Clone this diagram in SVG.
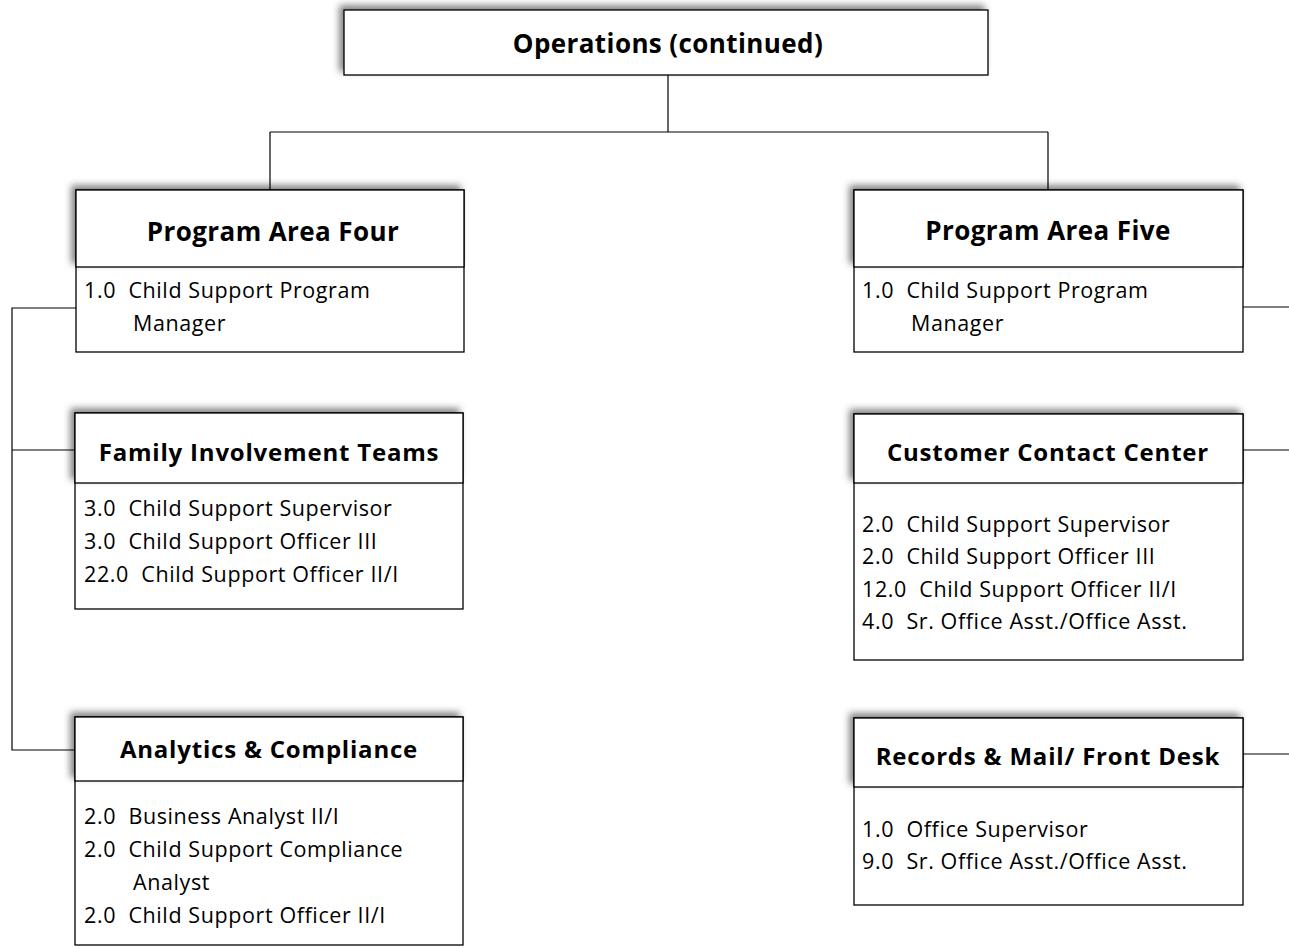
<svg xmlns="http://www.w3.org/2000/svg" width="1289" height="948" viewBox="0 0 1289 948">
<defs>
<filter id="sh" x="-10%" y="-30%" width="120%" height="160%">
<feDropShadow dx="-4" dy="-4" stdDeviation="3.5" flood-color="#000" flood-opacity="0.5"/>
</filter>
</defs>
<style>
.box{fill:#fff;stroke:#000;stroke-width:1.3}
.hd{fill:#fff;stroke:#000;stroke-width:1.3;filter:url(#sh)}
.t{font-family:"Open Sans","Noto Sans",sans-serif;font-weight:bold;font-size:24px;letter-spacing:0.8px;text-anchor:middle;dominant-baseline:central;fill:#000}
.tl{font-size:26px;letter-spacing:0.4px}
.b{font-family:"Open Sans","Noto Sans",sans-serif;font-size:21.5px;letter-spacing:0.6px;fill:#000;white-space:pre}
.c{fill:none;stroke:#000;stroke-width:1.2}
</style>
<rect width="1289" height="948" fill="#fff"/>
<g id="connectors">
<path class="c" d="M668 75V132M270 132H1048M270 132V190M1048 132V190"/>
<path class="c" d="M76 308H12V750H76M12 450H76"/>
<path class="c" d="M1243 307H1289M1243 450H1289M1243 754H1289"/>
</g>
<g id="operations">
<rect class="hd" x="344" y="10" width="644" height="65"/>
<text class="t tl" x="668" y="43">Operations (continued)</text>
</g>
<g id="program-area-four">
<rect class="box" x="76" y="190" width="388" height="162"/>
<rect class="hd" x="76" y="190" width="388" height="77"/>
<text class="t tl" x="273" y="231">Program Area Four</text>
<text class="b" x="84" y="298">1.0  Child Support Program</text>
<text class="b" x="133" y="331">Manager</text>
</g>
<g id="program-area-five">
<rect class="box" x="854" y="190" width="389" height="162"/>
<rect class="hd" x="854" y="190" width="389" height="77"/>
<text class="t tl" x="1048" y="230">Program Area Five</text>
<text class="b" x="862" y="298">1.0  Child Support Program</text>
<text class="b" x="911" y="331">Manager</text>
</g>
<g id="family-involvement-teams">
<rect class="box" x="75" y="413" width="388" height="196"/>
<rect class="hd" x="75" y="413" width="388" height="70"/>
<text class="t" x="269" y="451">Family Involvement Teams</text>
<text class="b" x="84" y="516">3.0  Child Support Supervisor</text>
<text class="b" x="84" y="549">3.0  Child Support Officer III</text>
<text class="b" x="84" y="582">22.0  Child Support Officer II/I</text>
</g>
<g id="customer-contact-center">
<rect class="box" x="854" y="414" width="389" height="246"/>
<rect class="hd" x="854" y="414" width="389" height="69"/>
<text class="t" x="1048" y="451">Customer Contact Center</text>
<text class="b" x="862" y="532">2.0  Child Support Supervisor</text>
<text class="b" x="862" y="564">2.0  Child Support Officer III</text>
<text class="b" x="862" y="597">12.0  Child Support Officer II/I</text>
<text class="b" x="862" y="629">4.0  Sr. Office Asst./Office Asst.</text>
</g>
<g id="analytics-compliance">
<rect class="box" x="75" y="717" width="388" height="228"/>
<rect class="hd" x="75" y="717" width="388" height="64"/>
<text class="t" x="269" y="748">Analytics &amp; Compliance</text>
<text class="b" x="84" y="824">2.0  Business Analyst II/I</text>
<text class="b" x="84" y="857">2.0  Child Support Compliance</text>
<text class="b" x="133" y="890">Analyst</text>
<text class="b" x="84" y="923">2.0  Child Support Officer II/I</text>
</g>
<g id="records-mail-front-desk">
<rect class="box" x="854" y="718" width="389" height="187"/>
<rect class="hd" x="854" y="718" width="389" height="69"/>
<text class="t" x="1048" y="755">Records &amp; Mail/ Front Desk</text>
<text class="b" x="862" y="837">1.0  Office Supervisor</text>
<text class="b" x="862" y="869">9.0  Sr. Office Asst./Office Asst.</text>
</g>
</svg>
